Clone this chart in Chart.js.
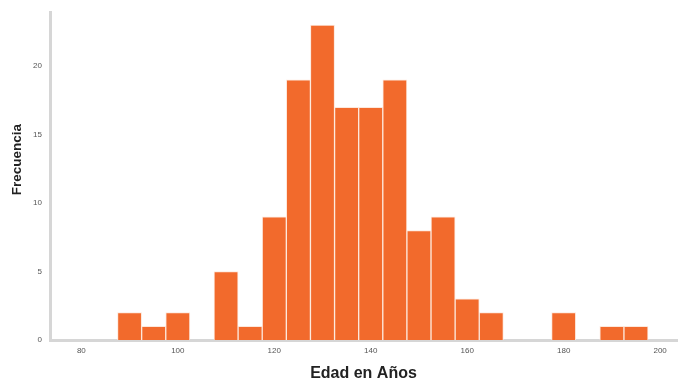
<!DOCTYPE html>
<html>
<head>
<meta charset="utf-8">
<script src="https://cdn.jsdelivr.net/npm/chart.js@4"></script>
<style>
  html, body { margin: 0; padding: 0; background: #fff; }
  #wrap { width: 679px; height: 383px; position: relative; }
</style>
</head>
<body>
<div id="wrap"><canvas id="histChart"></canvas></div>
<script>
// Histogram bins (centre of each 5-year bin) and counts
const binCenters = [75, 80, 85, 90, 95, 100, 105, 110, 115, 120, 125, 130, 135, 140, 145, 150, 155, 160, 165, 170, 175, 180, 185, 190, 195, 200];
const counts     = [0,  0,  0,  2,  1,  2,   0,   5,   1,   9,   19,  23,  17,  17,  19,  8,   9,   3,   2,   0,   0,   2,   0,   1,   1,   0];
const xTicks = [80, 100, 120, 140, 160, 180, 200];
const yTicks = [0, 5, 10, 15, 20];

const points = binCenters.map((c, i) => ({ x: c, y: counts[i] }));

const ctx = document.getElementById('histChart').getContext('2d');
new Chart(ctx, {
    type: 'bar',
    data: {
        datasets: [{
            label: 'Frecuencia',
            data: points,
            backgroundColor: '#f26a2c',
            borderColor: '#fde8dc',
            borderWidth: 1,
            barPercentage: 1,
            categoryPercentage: 1
        }]
    },
    options: {
        responsive: true,
        maintainAspectRatio: false,
        animation: false,
        layout: { padding: { left: 0, right: 2, top: 3, bottom: 0 } },
        plugins: {
            legend: { display: false },
            tooltip: { enabled: false }
        },
        scales: {
            x: {
                type: 'linear',
                offset: false,
                min: 73.5,
                max: 203.5,
                grid: { display: false, drawTicks: false },
                border: { color: '#d6d6d6', width: 3 },
                afterBuildTicks: (scale) => { scale.ticks = xTicks.map(v => ({ value: v })); },
                afterFit: (scale) => { scale.height = 43; },
                ticks: {
                    color: '#555',
                    font: { family: 'Liberation Sans', size: 8 },
                    padding: 6,
                    maxRotation: 0
                },
                title: {
                    display: true,
                    text: 'Edad en Años',
                    color: '#222',
                    font: { family: 'Liberation Sans', size: 16, weight: 'bold' },
                    padding: { top: 5, bottom: 0 }
                }
            },
            y: {
                min: 0,
                max: 23.9,
                grid: { display: false, drawTicks: false },
                border: { color: '#d6d6d6', width: 3 },
                afterBuildTicks: (scale) => { scale.ticks = yTicks.map(v => ({ value: v })); },
                afterFit: (scale) => { scale.width = 50; },
                ticks: {
                    color: '#555',
                    font: { family: 'Liberation Sans', size: 8 },
                    padding: 8
                },
                title: {
                    display: true,
                    text: '         Frecuencia',
                    color: '#222',
                    font: { family: 'Liberation Sans', size: 13.5, weight: 'bold' },
                    padding: { top: 9, bottom: 4 }
                }
            }
        }
    }
});
</script>
</body>
</html>
